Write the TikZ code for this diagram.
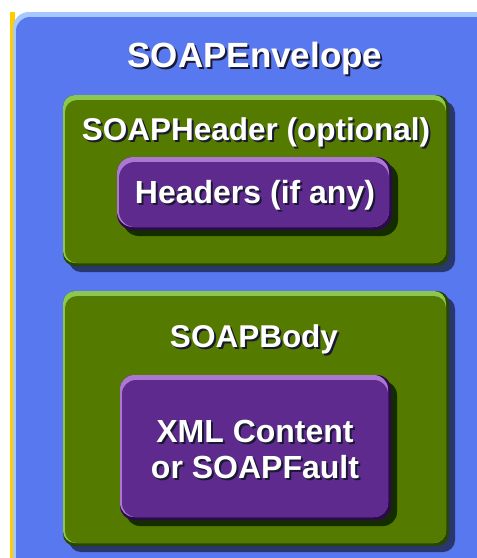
\documentclass[tikz,border=0pt]{standalone}
\usepackage{fontspec}
\setmainfont{Liberation Sans}
\definecolor{envface}{RGB}{88,120,240}
\definecolor{envlight}{RGB}{165,200,255}
\definecolor{envedge}{RGB}{255,204,0}
\definecolor{grnface}{RGB}{84,122,0}
\definecolor{grnlight}{RGB}{140,200,80}
\definecolor{grndark}{RGB}{40,70,0}
\definecolor{grnshadow}{RGB}{40,55,110}
\definecolor{purface}{RGB}{94,42,142}
\definecolor{purlight}{RGB}{170,120,210}
\definecolor{purdark}{RGB}{45,10,75}
\definecolor{purshadow}{RGB}{20,45,0}
\definecolor{txtshadow}{RGB}{25,25,50}

% bevelled box: x1 y1 x2 y2 radius face light dark shadow
\newcommand{\bevbox}[9]{%
  \fill[#9, rounded corners=#5pt] (#1+6,#2+6) rectangle (#3+6,#4+6);
  \fill[#8, rounded corners=#5pt] (#1,#2) rectangle (#3,#4);
  \fill[#7, rounded corners=#5pt] (#1,#2) rectangle (#3-3,#4-3);
  \fill[#6, rounded corners=#5pt] (#1+2,#2+5) rectangle (#3-3,#4-3);
}

% white text with a dark drop shadow behind it
\newcommand{\shadowtxt}[1]{%
  \rlap{\kern2pt\raisebox{-2pt}{\textcolor{txtshadow}{#1}}}#1}

\tikzset{
  lbl/.style={anchor=base, text=white, inner sep=0pt, font=\bfseries}
}
\newcommand{\shlabel}[5]{%
  \node[lbl, font=\bfseries\fontsize{#4}{37}\selectfont] (#1) at (#2,#3) {\shadowtxt{#5}};
}

\begin{document}
\begin{tikzpicture}[x=1pt,y=-1pt]
  \useasboundingbox (0,0) rectangle (477,558);
  \fill[white] (0,0) rectangle (477,558);
  \clip (0,0) rectangle (477,558);

  % envelope
  \fill[envedge] (10,12) rectangle (15,570);
  \fill[envlight, rounded corners=16pt] (13,12) rectangle (500,580);
  \fill[envface, rounded corners=14pt] (16,17) rectangle (500,580);

  % header block
  \bevbox{63}{95}{449}{266}{12}{grnface}{grnlight}{grndark}{grnshadow}
  \bevbox{117}{157}{392}{230}{16}{purface}{purlight}{purdark}{purshadow}

  % body block
  \bevbox{63}{291}{449}{546}{12}{grnface}{grnlight}{grndark}{grnshadow}
  \bevbox{120}{375}{391}{520}{14}{purface}{purlight}{purdark}{purshadow}

  \shlabel{env}{255}{67}{35}{SOAPEnvelope}
  \shlabel{hdr}{256}{140}{31.5}{SOAPHeader (optional)}
  \shlabel{hdrs}{255}{203}{32}{Headers (if any)}
  \shlabel{body}{254}{347}{31.5}{SOAPBody}
  \shlabel{xml}{255}{442}{32}{XML Content}
  \shlabel{fault}{255}{478}{32}{or SOAPFault}
\end{tikzpicture}
\end{document}
